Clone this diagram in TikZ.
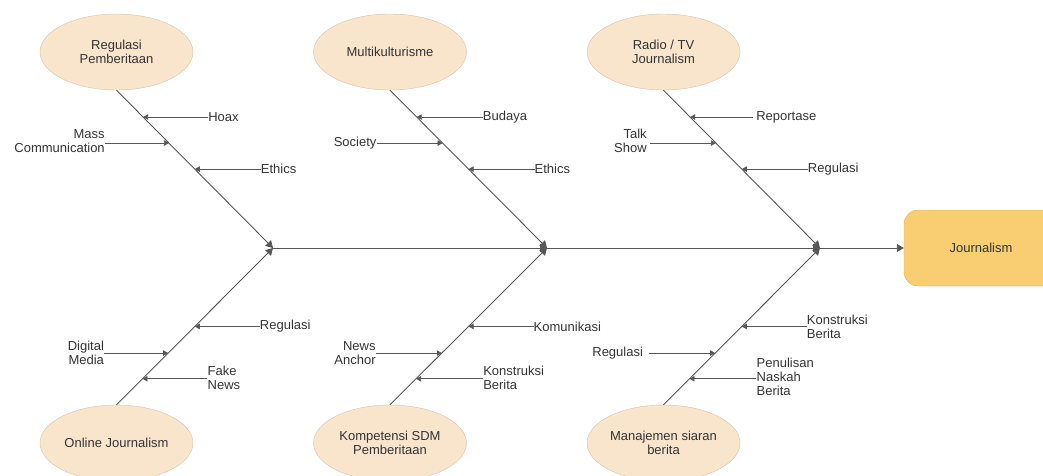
\documentclass[tikz,border=0pt]{standalone}
\usepackage{fontspec}
\setmainfont{Liberation Sans}
\usetikzlibrary{arrows.meta,shapes.geometric,calc}
\definecolor{ellfill}{HTML}{F9E5CC}
\definecolor{elldraw}{HTML}{D6C2A8}
\definecolor{boxfill}{HTML}{F9CD72}
\definecolor{boxdraw}{HTML}{DDB35F}
\definecolor{linec}{HTML}{575757}
\definecolor{textc}{HTML}{333333}
\tikzset{
  ell/.style={ellipse, draw=elldraw, fill=ellfill, minimum width=153pt, minimum height=76pt, inner sep=0pt, align=center, text=textc, font=\fontsize{13}{14}\selectfont},
  jbox/.style={rectangle, rounded corners=14pt, draw=boxdraw, fill=boxfill, minimum width=154pt, minimum height=76pt, text=textc, font=\fontsize{13}{14}\selectfont},
  bone/.style={draw=linec, line width=0.9pt, -{Triangle[length=7pt,width=8pt]}},
  rib/.style={draw=linec, line width=0.75pt, -{Triangle[length=5pt,width=5.5pt]}},
  rlab/.style={anchor=west, inner sep=0pt, align=left, text=textc, font=\fontsize{13}{14}\selectfont},
  llab/.style={anchor=east, inner sep=0pt, align=right, text=textc, font=\fontsize{13}{14}\selectfont},
}
\begin{document}
\begin{tikzpicture}[x=1pt,y=-1pt]
\useasboundingbox (0,0) rectangle (1043,475);
% ellipses
\node[ell] (e1) at (116.5,52) {Regulasi\\Pemberitaan};
\node[ell] (e2) at (390,52) {Multikulturisme};
\node[ell] (e3) at (663.5,52) {Radio / TV\\Journalism};
\node[ell] (e4) at (116.5,443) {Online Journalism};
\node[ell] (e5) at (390,443) {Kompetensi SDM\\Pemberitaan};
\node[ell] (e6) at (663.5,443) {Manajemen siaran\\berita};
\node[jbox] (box) at (981,248) {Journalism};
% junctions
\coordinate (j1) at (273,248);
\coordinate (j2) at (547,248);
\coordinate (j3) at (820,248);
% spine
\draw[bone] (j1) -- (j2);
\draw[bone] (j2) -- (j3);
\draw[bone] (j3) -- (box.west);
% bones
\draw[bone] (e1.south) -- (j1);
\draw[bone] (e2.south) -- (j2);
\draw[bone] (e3.south) -- (j3);
\draw[bone] (e4.north) -- (j1);
\draw[bone] (e5.north) -- (j2);
\draw[bone] (e6.north) -- (j3);
% rib points
\foreach \e/\j in {1/j1,2/j2,3/j3}{
  \coordinate (a\e) at ($(e\e.south)!0.17!(\j)$);
  \coordinate (b\e) at ($(e\e.south)!0.335!(\j)$);
  \coordinate (c\e) at ($(e\e.south)!0.5!(\j)$);
}
\foreach \e/\j in {4/j1,5/j2,6/j3}{
  \coordinate (a\e) at ($(e\e.north)!0.5!(\j)$);
  \coordinate (b\e) at ($(e\e.north)!0.33!(\j)$);
  \coordinate (c\e) at ($(e\e.north)!0.166!(\j)$);
}
% top-left
\node[rlab] (l1a) at ($(a1)+(65,0)$) {Hoax};
\node[llab] (l1b) at ($(b1)+(-64,-2)$) {Mass\\Communication};
\node[rlab] (l1c) at ($(c1)+(66,0)$) {Ethics};
\draw[rib] (l1a.west) -- (a1);
\draw[rib] (l1b.east |- b1) -- (b1);
\draw[rib] (l1c.west) -- (c1);
% top-middle
\node[rlab] (l2a) at ($(a2)+(66,0)$) {Budaya};
\node[llab] (l2b) at ($(b2)+(-66,0)$) {Society};
\node[rlab] (l2c) at ($(c2)+(66,0)$) {Ethics};
\draw[rib] (l2a.west) -- (a2);
\draw[rib] (l2b.east) -- (b2);
\draw[rib] (l2c.west) -- (c2);
% top-right
\node[rlab] (l3a) at ($(a3)+(66,0)$) {Reportase};
\node[llab] (l3b) at ($(b3)+(-69,-2)$) {Talk\\Show};
\node[rlab] (l3c) at ($(c3)+(66,0)$) {Regulasi};
\draw[rib] ($(l3a.west)+(-3,0)$) -- (a3);
\draw[rib] ($(l3b.east |- b3)+(3,0)$) -- (b3);
\draw[rib] (l3c.west) -- (c3);
% bottom-left
\node[rlab] (l4a) at ($(a4)+(65,0)$) {Regulasi};
\node[llab] (l4b) at ($(b4)+(-64,0)$) {Digital\\Media};
\node[rlab] (l4c) at ($(c4)+(65,-1)$) {Fake\\News};
\draw[rib] (l4a.west) -- (a4);
\draw[rib] (l4b.east |- b4) -- (b4);
\draw[rib] (l4c.west |- c4) -- (c4);
% bottom-middle
\node[rlab] (l5a) at ($(a5)+(65,0)$) {Komunikasi};
\node[llab] (l5b) at ($(b5)+(-66,0)$) {News\\Anchor};
\node[rlab] (l5c) at ($(c5)+(67,-1)$) {Konstruksi\\Berita};
\draw[rib] (l5a.west) -- (a5);
\draw[rib] (l5b.east |- b5) -- (b5);
\draw[rib] (l5c.west |- c5) -- (c5);
% bottom-right
\node[rlab] (l6a) at ($(a6)+(65,0)$) {Konstruksi\\Berita};
\node[llab] (l6b) at ($(b6)+(-72,0)$) {Regulasi};
\node[rlab] (l6c) at ($(c6)+(67,-2)$) {Penulisan\\Naskah\\Berita};
\draw[rib] (l6a.west |- a6) -- (a6);
\draw[rib] ($(l6b.east)+(6,0)$) -- (b6);
\draw[rib] (l6c.west |- c6) -- (c6);
\end{tikzpicture}
\end{document}
